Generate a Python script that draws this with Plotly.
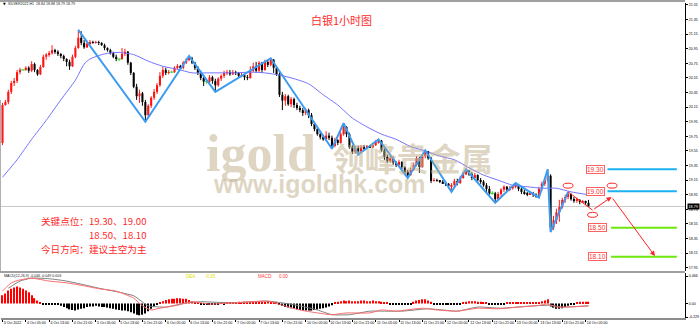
import plotly.graph_objects as go

# ------------------------------------------------------------------ data
first_open = 19.66
close = [
    20.18, 20.22, 20.36, 20.48, 20.51, 20.63, 20.66, 20.66, 20.69, 20.65,
    20.74, 20.66, 20.60, 20.70, 20.84, 20.87, 20.89, 20.93, 20.91, 20.88,
    20.85, 20.81, 20.77, 20.71, 20.84, 20.96, 21.10, 21.03, 20.97, 21.02,
    21.04, 21.03, 21.04, 21.03, 21.00, 20.96, 20.93, 20.89, 20.84, 20.81,
    20.81, 20.88, 20.91, 20.76, 20.62, 20.43, 20.30, 20.34, 20.22, 20.04,
    20.17, 20.28, 20.36, 20.45, 20.58, 20.66, 20.62, 20.63, 20.63, 20.69,
    20.71, 20.69, 20.76, 20.80, 20.82, 20.76, 20.69, 20.62, 20.55, 20.50,
    20.50, 20.56, 20.51, 20.45, 20.54, 20.58, 20.62, 20.63, 20.60, 20.63,
    20.62, 20.58, 20.59, 20.56, 20.55, 20.65, 20.71, 20.65, 20.76, 20.66,
    20.77, 20.73, 20.80, 20.69, 20.60, 20.32, 20.24, 20.30, 20.19, 20.26,
    20.18, 20.14, 20.11, 20.07, 20.11, 20.04, 19.92, 19.85, 19.78, 19.74,
    19.71, 19.76, 19.73, 19.62, 19.70, 19.66, 19.78, 19.88, 19.78, 19.60,
    19.54, 19.59, 19.54, 19.60, 19.59, 19.62, 19.60, 19.63, 19.67, 19.69,
    19.56, 19.47, 19.41, 19.45, 19.39, 19.36, 19.40, 19.33, 19.26, 19.22,
    19.29, 19.36, 19.45, 19.33, 19.48, 19.55, 19.45, 19.14, 19.15, 19.14,
    19.13, 19.11, 19.10, 19.07, 19.08, 19.14, 19.11, 19.18, 19.23, 19.28,
    19.23, 19.18, 19.22, 19.15, 19.13, 19.08, 19.03, 18.97, 18.97, 18.89,
    18.96, 19.02, 19.06, 19.02, 19.04, 19.07, 19.08, 19.03, 18.99, 18.97,
    18.96, 18.97, 18.95, 18.93, 19.03, 19.10, 19.15, 19.21, 18.50, 18.60,
    18.71, 18.78, 18.88, 18.92, 18.96, 18.89, 18.87, 18.88, 18.85, 18.86,
    18.84, 18.79]
high = [
    20.21, 20.25, 20.39, 20.51, 20.55, 20.66, 20.69, 20.67, 20.71, 20.71,
    20.78, 20.76, 20.67, 20.73, 20.87, 20.89, 20.92, 21.00, 20.95, 20.93,
    20.89, 20.87, 20.82, 20.80, 20.87, 20.99, 21.21, 21.19, 21.07, 21.06,
    21.07, 21.06, 21.06, 21.06, 21.04, 21.02, 20.97, 20.95, 20.91, 20.87,
    20.82, 20.96, 20.95, 20.92, 20.77, 20.63, 20.47, 20.39, 20.36, 20.25,
    20.19, 20.30, 20.40, 20.48, 20.63, 20.70, 20.69, 20.66, 20.65, 20.71,
    20.74, 20.73, 20.78, 20.82, 20.85, 20.84, 20.77, 20.71, 20.65, 20.58,
    20.52, 20.59, 20.58, 20.54, 20.56, 20.60, 20.65, 20.66, 20.66, 20.66,
    20.65, 20.63, 20.62, 20.60, 20.59, 20.71, 20.76, 20.77, 20.78, 20.77,
    20.80, 20.80, 20.82, 20.81, 20.71, 20.63, 20.36, 20.33, 20.32, 20.29,
    20.28, 20.21, 20.17, 20.14, 20.14, 20.13, 20.07, 19.95, 19.87, 19.81,
    19.77, 19.82, 19.80, 19.76, 19.73, 19.71, 19.81, 19.93, 19.89, 19.80,
    19.63, 19.62, 19.62, 19.63, 19.63, 19.63, 19.63, 19.66, 19.70, 19.71,
    19.70, 19.59, 19.50, 19.48, 19.47, 19.41, 19.43, 19.41, 19.34, 19.29,
    19.32, 19.39, 19.48, 19.47, 19.51, 19.56, 19.55, 19.47, 19.18, 19.17,
    19.15, 19.15, 19.14, 19.11, 19.11, 19.17, 19.17, 19.21, 19.26, 19.30,
    19.29, 19.26, 19.25, 19.23, 19.18, 19.15, 19.11, 19.07, 19.00, 18.99,
    18.99, 19.04, 19.08, 19.07, 19.07, 19.08, 19.11, 19.08, 19.06, 19.02,
    18.99, 19.00, 18.99, 18.97, 19.06, 19.13, 19.19, 19.30, 19.23, 18.66,
    18.76, 18.88, 18.91, 18.95, 18.99, 18.97, 18.92, 18.91, 18.89, 18.88,
    18.87, 18.88]
low = [
    19.63, 20.17, 20.19, 20.33, 20.44, 20.48, 20.60, 20.65, 20.65, 20.62,
    20.63, 20.63, 20.58, 20.59, 20.69, 20.80, 20.84, 20.87, 20.88, 20.85,
    20.82, 20.78, 20.71, 20.66, 20.70, 20.82, 20.95, 21.00, 20.95, 20.96,
    20.99, 21.02, 21.02, 21.00, 20.99, 20.93, 20.91, 20.87, 20.82, 20.78,
    20.78, 20.80, 20.85, 20.73, 20.59, 20.41, 20.25, 20.21, 20.17, 19.95,
    20.00, 20.14, 20.25, 20.33, 20.43, 20.55, 20.59, 20.60, 20.62, 20.62,
    20.67, 20.66, 20.67, 20.74, 20.78, 20.74, 20.66, 20.59, 20.52, 20.44,
    20.47, 20.47, 20.47, 20.36, 20.43, 20.51, 20.55, 20.59, 20.58, 20.59,
    20.59, 20.56, 20.56, 20.52, 20.52, 20.54, 20.63, 20.62, 20.63, 20.62,
    20.65, 20.70, 20.71, 20.62, 20.58, 20.29, 20.11, 20.17, 20.17, 20.15,
    20.14, 20.11, 20.08, 20.03, 20.04, 20.00, 19.89, 19.82, 19.76, 19.71,
    19.69, 19.69, 19.70, 19.58, 19.60, 19.63, 19.65, 19.76, 19.74, 19.58,
    19.51, 19.51, 19.50, 19.52, 19.56, 19.58, 19.59, 19.59, 19.62, 19.65,
    19.54, 19.43, 19.39, 19.39, 19.36, 19.33, 19.33, 19.30, 19.23, 19.18,
    19.21, 19.28, 19.34, 19.25, 19.32, 19.45, 19.43, 19.11, 19.13, 19.13,
    19.11, 19.10, 19.07, 19.04, 18.99, 19.04, 19.08, 19.10, 19.17, 19.22,
    19.21, 19.15, 19.17, 19.13, 19.10, 19.06, 18.97, 18.95, 18.95, 18.84,
    18.87, 18.93, 18.99, 18.99, 19.00, 19.02, 19.04, 19.00, 18.96, 18.95,
    18.93, 18.95, 18.92, 18.91, 18.91, 19.00, 19.07, 19.13, 18.44, 18.47,
    18.55, 18.58, 18.76, 18.84, 18.89, 18.87, 18.84, 18.84, 18.82, 18.84,
    18.81, 18.79]

ma_idx = [0, 5, 10, 15, 20, 25, 28, 30, 35, 40, 45, 50, 55, 60, 65, 70, 75, 80, 85, 90,
          95, 100, 105, 110, 115, 120, 125, 130, 135, 140, 145, 150, 155, 160, 165, 170,
          175, 180, 185, 190, 195, 201]
ma_val = [19.19, 19.43, 19.71, 19.97, 20.25, 20.52, 20.74, 20.81, 20.88, 20.90,
          20.87, 20.78, 20.71, 20.67, 20.62, 20.62, 20.62, 20.62, 20.63, 20.62,
          20.59, 20.54, 20.47, 20.32, 20.18, 20.00, 19.88, 19.78, 19.71, 19.61,
          19.55, 19.48, 19.43, 19.32, 19.22, 19.15, 19.08, 19.06, 19.04, 19.04,
          18.99, 18.95]

zz_idx = [26, 49, 64, 73, 92, 113, 117, 122, 129, 139, 145, 154, 159, 169, 176, 184, 187, 188, 194]
zz_val = [21.21, 19.95, 20.85, 20.36, 20.82, 19.58, 19.93, 19.50, 19.71, 19.18,
          19.56, 18.99, 19.30, 18.84, 19.11, 18.91, 19.30, 18.44, 18.99]

macd_hist = [
    0.14, 0.17, 0.22, 0.25, 0.27, 0.29, 0.27, 0.25, 0.22, 0.19, 0.14, 0.09, 0.05, 0.02,
    -0.01, -0.01, -0.02, -0.01, -0.02, -0.02,
    -0.04, -0.06, -0.08, -0.10, -0.11, -0.12, -0.10, -0.09, -0.08,
    -0.06, -0.05, -0.05, -0.04, -0.05, -0.06, -0.06, -0.07, -0.08,
    -0.09, -0.10, -0.11, -0.12, -0.12, -0.13, -0.15, -0.17, -0.19, -0.20, -0.19, -0.17, -0.13,
    -0.09, -0.05, -0.02,
    0.02, 0.04, 0.06, 0.07, 0.08, 0.08, 0.09, 0.09, 0.08, 0.08, 0.06, 0.04, 0.02,
    0.01, -0.01, -0.02, -0.02, -0.01, -0.02, -0.02, -0.01, 0.01, -0.01, 0.01, 0.02,
    0.02, 0.02, 0.03, 0.02, 0.03, 0.03, 0.03, 0.02, 0.03, 0.03, 0.03, 0.03, 0.04, 0.03, 0.02, 0.01,
    -0.02, -0.04, -0.06, -0.07, -0.08, -0.09, -0.10, -0.11, -0.12, -0.12, -0.12, -0.12, -0.11,
    -0.10, -0.09, -0.08, -0.07, -0.05, -0.03,
    0.02, 0.03, 0.04, 0.05, 0.04, 0.05, 0.04, 0.04, 0.04, 0.05, 0.05, 0.04, 0.04, 0.05, 0.04,
    0.04, 0.03, 0.02, 0.01,
    -0.01, -0.01, -0.01, -0.02, -0.01, -0.01, -0.01, -0.01,
    0.03, 0.05, 0.06, 0.07, 0.07, 0.05, 0.03,
    -0.01, -0.01, -0.02, -0.02, -0.02, -0.02, -0.02, -0.01, -0.01, -0.01,
    0.02, 0.03, 0.04, 0.04, 0.04, 0.03, 0.03, 0.02, 0.02,
    -0.01, -0.01, -0.02, -0.01, -0.01, -0.01,
    0.01, 0.02, 0.02, 0.02, 0.02, 0.02, 0.01, 0.01, 0.01, 0.02, 0.02, 0.02, 0.04, 0.05, 0.07,
    -0.05, -0.07, -0.09, -0.09, -0.08, -0.06, -0.04, -0.02, -0.01,
    0.02, 0.03, 0.03, 0.03, 0.03]

dif_idx = [0, 3, 6, 10, 16, 22, 28, 33, 39, 45, 48, 51, 54, 60, 65, 71, 79, 91, 96, 102,
           108, 113, 118, 126, 130, 135, 144, 149, 156, 163, 170, 177, 183, 187, 190, 194, 201]
dif_val = [0.21, 0.35, 0.40, 0.43, 0.38, 0.35, 0.30, 0.25, 0.21, 0.09,
           -0.04, -0.11, -0.08, -0.03, 0.03, -0.01, 0.01, 0.04, -0.03, -0.11,
           -0.16, -0.19, -0.16, -0.16, -0.11, -0.13, -0.08, -0.11, -0.13, -0.08,
           -0.09, -0.06, -0.04, -0.01, -0.06, -0.06, -0.04]
dea_idx = [2, 6, 10, 16, 22, 33, 45, 50, 56, 63, 68, 79, 91, 96, 102, 108, 113, 119, 126, 131,
           137, 146, 151, 156, 163, 171, 182, 188, 192, 201]
dea_val = [0.26, 0.38, 0.43, 0.42, 0.38, 0.26, 0.13, -0.04, -0.06, 0.01,
           0.03, 0.01, 0.04, 0.01, -0.04, -0.11, -0.19, -0.19, -0.13, -0.13,
           -0.13, -0.09, -0.11, -0.13, -0.06, -0.08, -0.04, -0.03, -0.06, -0.04]

time_tick_idx = list(range(0, 201, 8))
time_tick_text = ["3 Oct 2022", "4 Oct 05:00", "4 Oct 13:00", "4 Oct 21:00", "5 Oct 05:00",
                  "5 Oct 13:00", "5 Oct 21:00", "6 Oct 05:00", "6 Oct 13:00", "6 Oct 21:00",
                  "7 Oct 05:00", "7 Oct 13:00", "7 Oct 21:00", "10 Oct 05:00", "10 Oct 13:00",
                  "10 Oct 21:00", "11 Oct 05:00", "11 Oct 13:00", "11 Oct 21:00", "12 Oct 05:00",
                  "12 Oct 13:00", "12 Oct 21:00", "13 Oct 05:00", "13 Oct 13:00", "13 Oct 21:00",
                  "14 Oct 05:00"]
price_ticks = [21.55, 21.35, 21.15, 20.95, 20.75, 20.55, 20.35, 20.15, 19.95, 19.75,
               19.55, 19.35, 19.15, 18.95, 18.75, 18.55, 18.35, 18.15, 17.95]
macd_ticks = [0.466, 0.0, -0.229]
macd_tick_text = ["0.466", "0.00", "-0.229"]

key_up = [19.30, 19.00]
key_dn = [18.50, 18.10]
last_price = 18.79
header_text = "SILVER2022,H1  18.84 18.88 18.79 18.79"
title_text = "白银1小时图"

plan_idx = [194, 202.4, 208.9, 223.8]
plan_val = [18.99, 18.74, 18.92, 18.11]
mark_idx = [194.0, 202.4, 209.1]
mark_val = [19.075, 18.675, 19.075]

# ------------------------------------------------------------------ geometry helpers
W, H = 700, 328
L, R, T, B = 1, 15, 3, 10


def px(x):
    return (x - L) / (W - L - R)


def py(y):
    return (H - B - y) / (H - T - B)


n = len(close)
idx = list(range(n))
opens = [first_open] + close[:-1]
up = [i for i in idx if close[i] > opens[i]]
dn = [i for i in idx if close[i] < opens[i]]
dj = [i for i in idx if close[i] == opens[i]]

fig = go.Figure()


def wick(ids):
    xs, ys = [], []
    for i in ids:
        xs += [i, i, None]
        ys += [min(low[i], opens[i], close[i]), max(high[i], opens[i], close[i]), None]
    return xs, ys


for ids, col in ((up, "#ff1a1a"), (dn, "#000000"), (dj, "#33dd33")):
    xs, ys = wick(ids)
    fig.add_trace(go.Scatter(x=xs, y=ys, mode="lines", line=dict(color=col, width=1),
                             hoverinfo="skip", xaxis="x", yaxis="y"))

fig.add_trace(go.Bar(x=up, y=[close[i] - opens[i] for i in up], base=[opens[i] for i in up],
                     width=0.7, marker=dict(color="#ff0000", line=dict(width=0)),
                     xaxis="x", yaxis="y"))
fig.add_trace(go.Bar(x=dn, y=[opens[i] - close[i] for i in dn], base=[close[i] for i in dn],
                     width=0.7, marker=dict(color="#000000", line=dict(width=0)),
                     xaxis="x", yaxis="y"))
fig.add_trace(go.Scatter(x=dj, y=[close[i] for i in dj], mode="markers",
                         marker=dict(symbol="line-ew", size=3, line=dict(color="#33dd33", width=1)),
                         xaxis="x", yaxis="y"))

# moving average and zigzag
fig.add_trace(go.Scatter(x=ma_idx, y=ma_val, mode="lines",
                         line=dict(color="#7373ff", width=1, shape="spline", smoothing=0.6),
                         xaxis="x", yaxis="y"))
fig.add_trace(go.Scatter(x=zz_idx, y=zz_val, mode="lines", line=dict(color="#3d9cf0", width=2),
                         xaxis="x", yaxis="y"))

# plan red line (first segment, no arrow)
fig.add_trace(go.Scatter(x=plan_idx[:2], y=plan_val[:2], mode="lines",
                         line=dict(color="#ff2020", width=1), xaxis="x", yaxis="y"))

# MACD panel
pos = [i for i in range(len(macd_hist)) if macd_hist[i] >= 0]
neg = [i for i in range(len(macd_hist)) if macd_hist[i] < 0]
fig.add_trace(go.Bar(x=pos, y=[macd_hist[i] for i in pos], width=0.4,
                     marker=dict(color="#ff0000", line=dict(width=0)), xaxis="x", yaxis="y2"))
fig.add_trace(go.Bar(x=neg, y=[macd_hist[i] for i in neg], width=0.4,
                     marker=dict(color="#000000", line=dict(width=0)), xaxis="x", yaxis="y2"))
fig.add_trace(go.Scatter(x=dea_idx, y=dea_val, mode="lines",
                         line=dict(color="#7f7f7f", width=1, shape="spline", smoothing=0.5),
                         xaxis="x", yaxis="y2"))
fig.add_trace(go.Scatter(x=dif_idx, y=dif_val, mode="lines",
                         line=dict(color="#ff6a6a", width=1, shape="spline", smoothing=0.5),
                         xaxis="x", yaxis="y2"))

# ------------------------------------------------------------------ shapes
shapes = []
shapes.append(dict(type="line", xref="x domain", yref="y", x0=0, x1=1, y0=last_price,
                   y1=last_price, line=dict(color="#c8c8c8", width=1), layer="below"))
for v in key_up:
    shapes.append(dict(type="line", xref="x", yref="y", x0=207.5, x1=231.3, y0=v, y1=v,
                       line=dict(color="#1ab2f0", width=2)))
for v in key_dn:
    shapes.append(dict(type="line", xref="x", yref="y", x0=208.7, x1=231.3, y0=v, y1=v,
                       line=dict(color="#6ee80c", width=2)))
for cx, cy in zip(mark_idx, mark_val):
    shapes.append(dict(type="circle", xref="x", yref="y", x0=cx - 1.7, x1=cx + 1.7,
                       y0=cy - 0.034, y1=cy + 0.034, line=dict(color="#ff2020", width=1)))
shapes.append(dict(type="line", xref="paper", yref="paper", x0=px(0), x1=px(685),
                   y0=py(1), y1=py(1), line=dict(color="#a0a0a0", width=2)))
shapes.append(dict(type="line", xref="paper", yref="paper", x0=px(0), x1=px(685),
                   y0=py(272), y1=py(272), line=dict(color="#a0a0a0", width=2)))
shapes.append(dict(type="line", xref="paper", yref="paper", x0=px(0.5), x1=px(0.5),
                   y0=py(100), y1=py(271), line=dict(color="#b0b0b0", width=1)))

# ------------------------------------------------------------------ annotations
ann = []
red = "#ff2a2a"
cjk = "Noto Sans CJK SC"


def note(x, y, text, font, xanchor="left", yanchor="middle", **kw):
    d = dict(xref="paper", yref="paper", x=px(x), y=py(y), text=text, showarrow=False,
             xanchor=xanchor, yanchor=yanchor, font=font, borderpad=0)
    d.update(kw)
    ann.append(d)


note(341, 19.5, title_text, dict(family=cjk, size=11, color=red), xanchor="center")
cjk_red = dict(family=cjk, size=9.6, color=red)
note(40, 220.5, "关键点位：%.2f、%.2f" % (key_up[0], key_up[1]), cjk_red)
note(88, 234.6, "%.2f、%.2f" % (key_dn[0], key_dn[1]), cjk_red)
note(40, 248.7, "今日方向：建议主空为主", cjk_red)

# watermark (single two-line logo block)
wm = "rgba(190,174,136,0.5)"
wm_text = ("<span style='font-family:Liberation Serif;font-size:52px;font-weight:bold'>igold</span>"
           "<span style='font-family:Noto Sans CJK SC;font-size:17px'>　</span>"
           "<span style='font-family:Noto Sans CJK SC;font-size:32px;font-weight:bold'>领峰贵金属</span>"
           "<br><span style='font-family:Noto Sans CJK SC;font-size:8px'>　</span>"
           "<span style='font-family:Liberation Sans;font-size:25px;font-weight:bold'>www.igoldhk.com</span>")
note(205, 124, wm_text, dict(family="Liberation Sans", size=17, color=wm),
     xanchor="left", yanchor="top", align="left")

# level boxes
for v, xi in ((key_up[0], 203.3), (key_up[1], 203.3), (key_dn[0], 204.0), (key_dn[1], 204.0)):
    ann.append(dict(xref="x", yref="y", x=xi, y=v, text="%.2f" % v, showarrow=False,
                    xanchor="center", yanchor="middle",
                    font=dict(family="Liberation Sans", size=6.5, color="#ff3030"),
                    bgcolor="#ffffff", bordercolor="#ff6060", borderwidth=1, borderpad=0))

# plan arrows
for k in (1, 2):
    ann.append(dict(xref="x", yref="y", axref="x", ayref="y",
                    x=plan_idx[k + 1], y=plan_val[k + 1], ax=plan_idx[k], ay=plan_val[k],
                    showarrow=True, arrowhead=2, arrowsize=1, arrowwidth=1,
                    arrowcolor="#ff2020", text=""))

# header texts
tiny = dict(family="Liberation Sans", size=3.6, color="#202020")
note(1.5, 4.5, "▼", dict(family="DejaVu Sans", size=3.5, color="#000"))
note(7, 4.5, header_text, tiny)
note(3, 276, "MACD(12,26,9) -0.046 -0.049 0.003", tiny)
yel = dict(family="Liberation Sans", size=4.5, color="#e0e000")
rd = dict(family="Liberation Sans", size=4.5, color="#ff4040")
note(185, 276, "DEA:", yel)
note(204, 276, "-0.05", yel)
note(257, 276, "MACD:", rd)
note(278, 276, "0.00", rd)
ann.append(dict(xref="paper", yref="y", x=px(687), y=last_price, xanchor="left",
                yanchor="middle", text="%.2f" % last_price, showarrow=False,
                bgcolor="#000000", borderpad=0.5,
                font=dict(family="Liberation Sans", size=3.8, color="#ffffff")))

# ------------------------------------------------------------------ layout
axis_font = dict(family="Liberation Sans", size=3.6, color="#000000")
fig.update_layout(
    width=W, height=H,
    margin=dict(l=L, r=R, t=T, b=B),
    paper_bgcolor="#ffffff", plot_bgcolor="#ffffff",
    showlegend=False, barmode="overlay",
    shapes=shapes, annotations=ann,
    xaxis=dict(domain=[0, 1], anchor="y2", range=[-0.515, 234.1],
               tickmode="array", tickvals=time_tick_idx, ticktext=time_tick_text,
               ticklabelposition="outside right", tickangle=0, ticks="outside", ticklen=2,
               tickcolor="#000000", tickfont=axis_font, showgrid=False, zeroline=False,
               showline=True, linecolor="#8c8c8c", linewidth=1.5),
    yaxis=dict(domain=[py(271), 1], anchor="x", side="right", range=[17.906, 21.577],
               tickmode="array", tickvals=price_ticks,
               ticktext=["%.2f" % v for v in price_ticks],
               ticks="outside", ticklen=2, tickcolor="#000000", tickfont=axis_font,
               showgrid=False, zeroline=False, showline=True, linecolor="#000000", linewidth=1),
    yaxis2=dict(domain=[0, py(273)], anchor="x", side="right", range=[-0.246, 0.517],
                tickmode="array", tickvals=macd_ticks, ticktext=macd_tick_text,
                ticks="outside", ticklen=2, tickcolor="#000000", tickfont=axis_font,
                showgrid=False, zeroline=False, showline=True, linecolor="#000000", linewidth=1),
)

fig.write_html("out.html")
